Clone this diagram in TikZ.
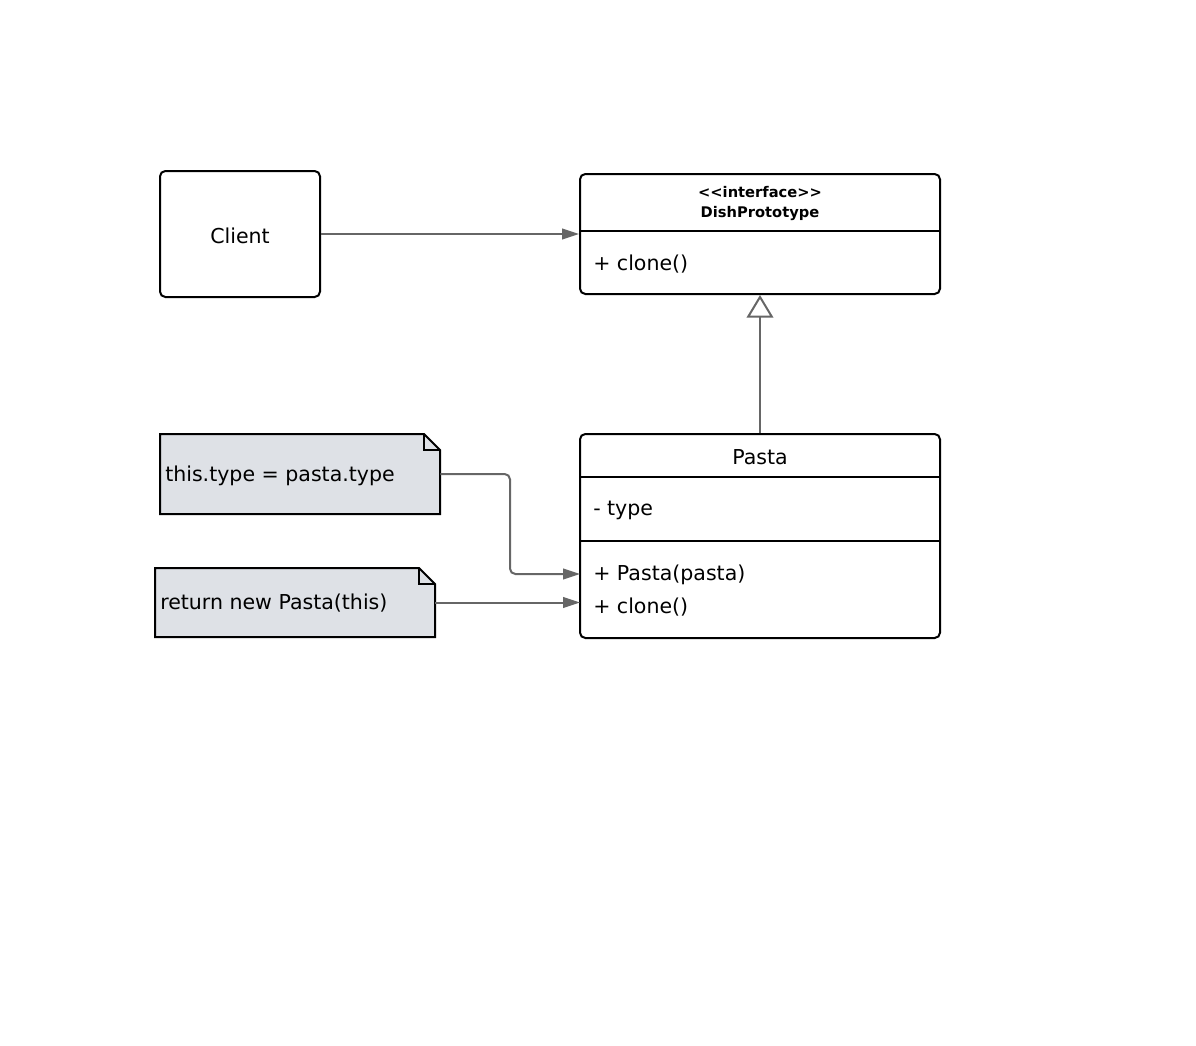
\documentclass[tikz,border=0pt]{standalone}
\usepackage{fontspec}
\setmainfont{DejaVu Sans}
\usetikzlibrary{arrows.meta}
\definecolor{linegray}{HTML}{666666}
\definecolor{notefill}{HTML}{DEE1E6}
\tikzset{
  classbox/.style={draw=black, line width=1.5pt, rounded corners=4pt, fill=white, inner sep=0pt},
  plainbox/.style={inner sep=0pt},
  conn/.style={draw=linegray, line width=1.5pt, -{Triangle[length=12.75pt,width=8pt]}},
  inherit/.style={draw=linegray, line width=1.5pt, -{Triangle[open,length=17pt,width=20pt,fill=white]}},
  txt/.style={font=\fontsize{15.4}{18}\selectfont, inner sep=0pt},
  hdr/.style={font=\fontsize{11}{15}\selectfont\bfseries, inner sep=0pt, align=center},
  notepath/.style={draw=black, line width=1.5pt, fill=notefill},
  divider/.style={draw=black, line width=1.5pt}
}
\begin{document}
\begin{tikzpicture}[x=0.75pt,y=-0.75pt]
\useasboundingbox (0,0) rectangle (1196,1046);

% Client
\node[classbox, minimum width=120pt, minimum height=94.5pt] (client) at (240,234) {};
\node[txt] (clientt) at (240,235.5) {Client};

% DishPrototype
\node[classbox, minimum width=270pt, minimum height=90pt] (dish) at (760,234) {};
\draw[divider] (580,231) -- (940,231);
\node[hdr] (dishh) at (760,204) {<{}<interface>{}>\\DishPrototype};
\node[txt, anchor=west] (dishm) at (593,264.5) {+ clone()};

% Pasta
\node[classbox, minimum width=270pt, minimum height=153pt] (pasta) at (760,536) {};
\draw[divider] (580,477) -- (940,477);
\draw[divider] (580,541) -- (940,541);
\node[txt] (pastat) at (760,457.5) {Pasta};
\node[txt, anchor=west] (pastaa) at (593,510) {- type};
\node[txt, anchor=west] (pastam1) at (593,575) {+ Pasta(pasta)};
\node[txt, anchor=west] (pastam2) at (593,607.5) {+ clone()};

% Notes
\node[plainbox, minimum width=210pt, minimum height=60pt] (n1) at (300,474) {};
\draw[notepath] (160,434) -- (424,434) -- (440,450) -- (440,514) -- (160,514) -- cycle;
\draw[divider, line width=1.2pt] (424,434) -- (424,450) -- (440,450);
\node[txt, anchor=west] (n1t) at (165,476) {this.type = pasta.type};

\node[plainbox, minimum width=210pt, minimum height=51.75pt] (n2) at (295,602.5) {};
\draw[notepath] (155,568) -- (419,568) -- (435,584) -- (435,637) -- (155,637) -- cycle;
\draw[divider, line width=1.2pt] (419,568) -- (419,584) -- (435,584);
\node[txt, anchor=west] (n2t) at (160,603.5) {return new Pasta(this)};

% Connectors
\coordinate (pc1) at (580,574);
\coordinate (pc2) at (580,602.5);
\draw[conn] (client.east) -- (dish.west);
\draw[inherit] (pasta.north) -- (dish.south);
\draw[conn, rounded corners=4pt] (n1.east) -| (510,574) -- (pc1);
\draw[conn] (n2.east) -- (pc2);
\end{tikzpicture}
\end{document}
